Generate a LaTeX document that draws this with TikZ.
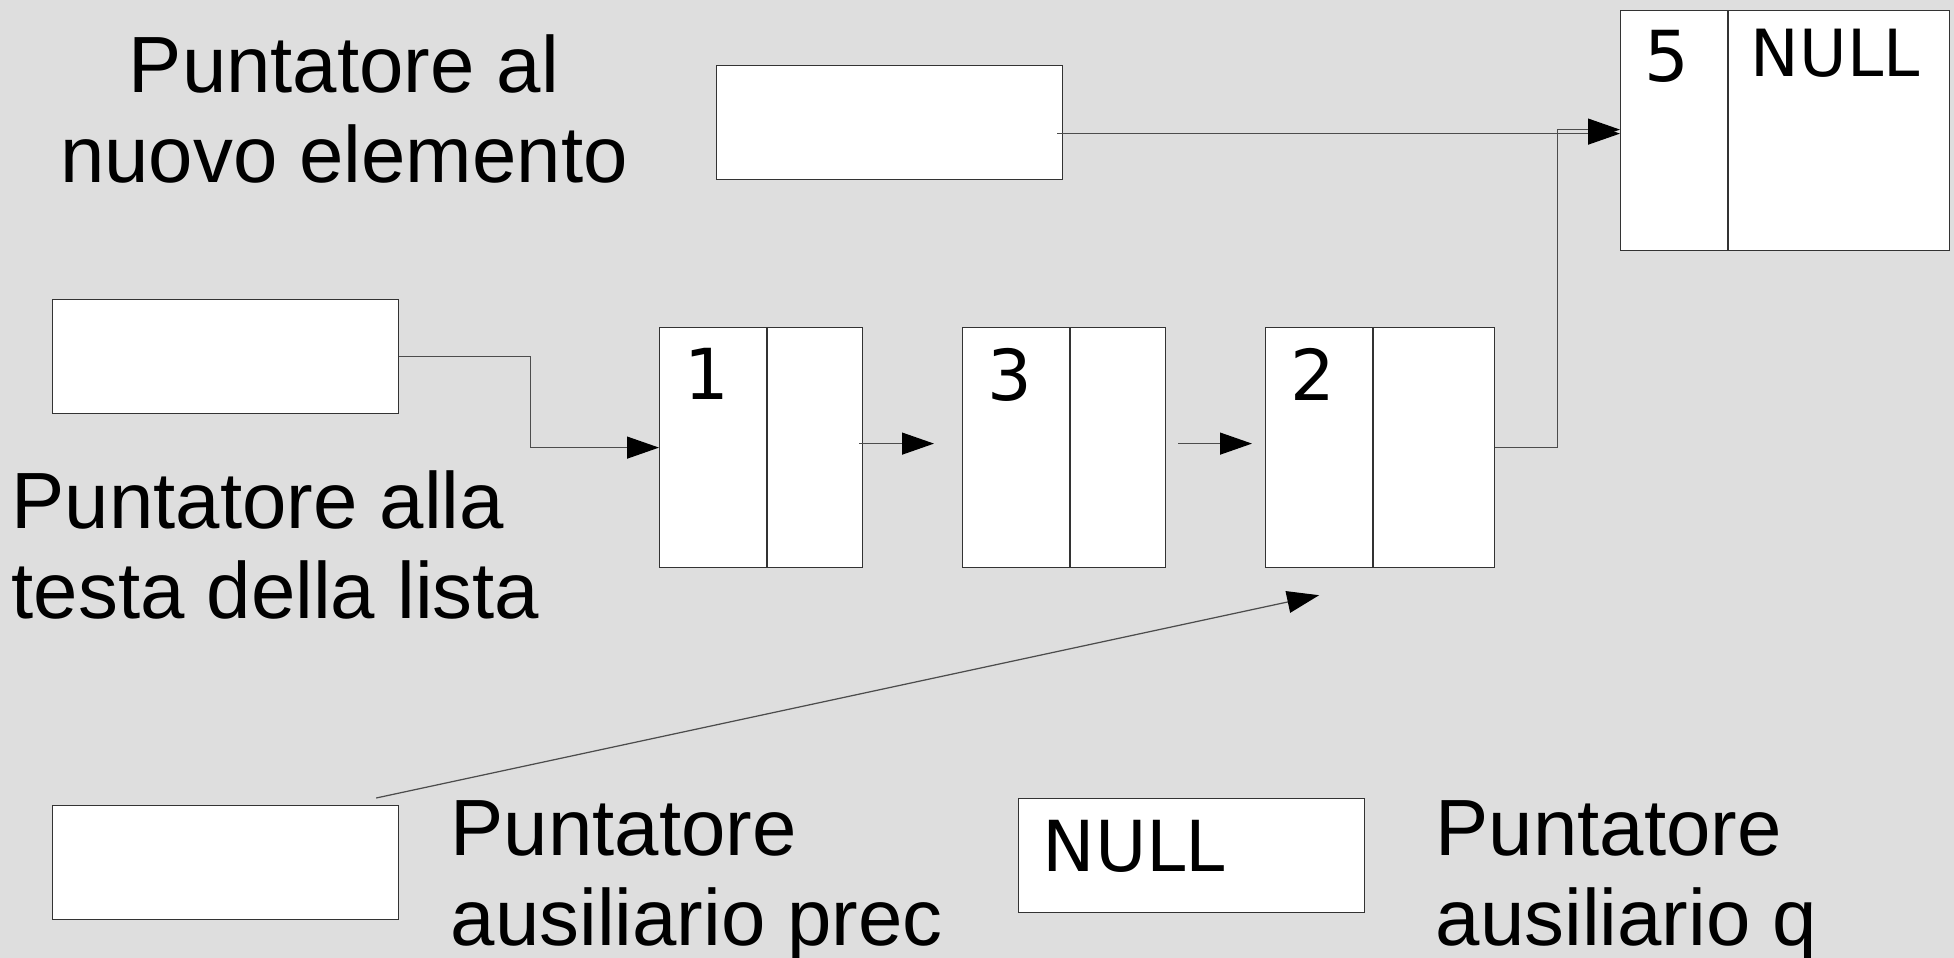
\documentclass[tikz,border=0pt]{standalone}
\usepackage{fontspec}
\setmainfont{Liberation Sans}
\newfontfamily\cellfont{DejaVu Sans}
\usetikzlibrary{positioning,arrows.meta}

\begin{document}
\begin{tikzpicture}[
    x=0.1mm, y=-0.1mm,
    % Define box styles
    box/.style={draw=black!80, fill=white, line width=0.35pt, inner sep=0pt},
    cell/.style={box, minimum height=24mm, anchor=north west},
    ptrbox/.style={box, minimum width=34.6mm, minimum height=11.4mm, anchor=north west},
    % Text styles
    caption/.style={font=\fontsize{22.7}{25.6}\selectfont, inner sep=0pt, anchor=north west, align=left},
    val/.style={font=\cellfont\fontsize{20}{24}\selectfont, inner sep=0pt, anchor=north},
    % Pointer style
    link/.style={draw=black!70, line width=0.35pt, -{Triangle[length=3.2mm, width=2.2mm, color=black]}}
]

% Background
\path[use as bounding box, fill=black!13] (0,0) rectangle (1954,958);

% Pointer variables
\node[ptrbox] (newel) at (716,65) {};
\node[ptrbox] (head) at (52,299) {};
\node[ptrbox] (prec) at (52,805) {};
\node[ptrbox] (q) at (1018,798) {};
\node[val, anchor=north west] (qval) at ([xshift=2.4mm, yshift=-2.2mm]q.north west) {NULL};

% List elements (value cell + next cell)
\foreach \val/\x/\w in {1/659/9.5, 3/962/9.5, 2/1265/12.1} {
    \node[cell, minimum width=10.7mm] (d\val) at (\x,327) {};
    \node[cell, minimum width=\w mm] (p\val) at (d\val.north east) {};
    \node[val] (v\val) at ([xshift=-0.6mm, yshift=-2.1mm]d\val.north) {\val};
}

% New element
\node[cell, minimum width=10.7mm] (d5) at (1620,10) {};
\node[cell, minimum width=22.1mm] (p5) at (d5.north east) {};
\node[val] (v5) at ([xshift=-0.7mm, yshift=-2mm]d5.north) {5};
\node[val, font=\cellfont\fontsize{18.5}{22}\selectfont, anchor=north west] (null5) at ([xshift=2.2mm, yshift=-1.8mm]p5.north west) {NULL};

% Captions
\node[caption, align=center, anchor=north] (lnew) at (344,34) {Puntatore al\\nuovo elemento};
\node[caption] (lhead) at (11,470) {Puntatore alla\\testa della lista};
\node[caption] (lprec) at (450,800) {Puntatore\\ausiliario prec};
\node[caption] (lq) at (1435,800) {Puntatore\\ausiliario q};

% Links
\draw[link] (head.east) -- ++(131,0) |- (d1.west);
\draw[link] ([xshift=-0.4mm, yshift=0.4mm]p1.east) -- ([xshift=-2.8mm, yshift=0.4mm]d3.west);
\draw[link] ([xshift=1.2mm, yshift=0.4mm]p3.east) -- ([xshift=-1.3mm, yshift=0.4mm]d2.west);

\coordinate (in5) at ([yshift=-0.3mm]d5.west);
\coordinate (out) at ([xshift=-0.6mm]newel.east);
\draw[link] (out |- in5) -- (in5);
\draw[link] (p2.east) -- ++(62,0) |- ([yshift=0.1mm]d5.west);

\draw[link] ([xshift=-2.3mm, yshift=0.7mm]prec.north east) -- ([yshift=-2.7mm]d2.south);

\end{tikzpicture}
\end{document}
